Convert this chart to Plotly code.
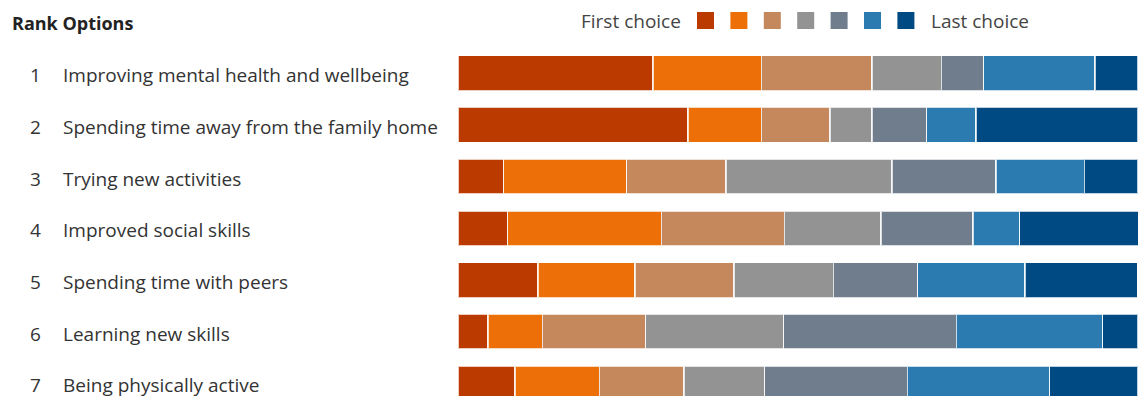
import plotly.graph_objects as go

ranks = ["1", "2", "3", "4", "5", "6", "7"]
options = [
    "Improving mental health and wellbeing",
    "Spending time away from the family home",
    "Trying new activities",
    "Improved social skills",
    "Spending time with peers",
    "Learning new skills",
    "Being physically active",
]
choice_names = ["First choice", "2nd", "3rd", "4th", "5th", "6th", "Last choice"]
colors = ["#BB3A00", "#EC7007", "#C4885C", "#939393", "#6F7D8C", "#2B7AB0", "#004A84"]

# share (%) of respondents per choice position, per option
first = [28.7, 33.8, 6.7, 7.3, 11.8, 4.4, 8.4]
second = [15.9, 10.8, 18.1, 22.6, 14.2, 8.0, 12.4]
third = [16.3, 10.1, 14.6, 18.1, 14.6, 15.2, 12.4]
fourth = [10.2, 6.2, 24.4, 14.2, 14.6, 20.3, 11.9]
fifth = [6.2, 8.0, 15.3, 13.5, 12.4, 25.4, 21.0]
sixth = [16.4, 7.3, 13.0, 6.9, 15.8, 21.5, 20.9]
last = [6.3, 23.8, 7.9, 17.5, 16.5, 5.2, 13.0]
series = [first, second, third, fourth, fifth, sixth, last]

W, H = 1138, 396
ML, MT, MB, MR = 458, 47, 0, 0
PW, PH = W - ML - MR, H - MT - MB


def px(x):
    return (x - ML) / PW


def py(y):
    return (H - MB - y) / PH


FONT = "Open Sans"
TXT = "#333333"
FS = 19

fig = go.Figure()
for name, vals, col in zip(choice_names, series, colors):
    fig.add_trace(go.Bar(
        y=options, x=vals, name=name, orientation="h",
        marker=dict(color=col, line=dict(color="rgba(255,255,255,0.75)", width=1.5)),
        showlegend=False, hoverinfo="x+y+name",
    ))

annotations = []
for r, o in zip(ranks, options):
    annotations.append(dict(x=px(35), y=o, xref="paper", yref="y", yshift=-2, text=r, showarrow=False,
                            xanchor="center", yanchor="middle", font=dict(family=FONT, size=FS, color=TXT)))
    annotations.append(dict(x=px(61), y=o, xref="paper", yref="y", yshift=-2, text=o, showarrow=False,
                            xanchor="left", yanchor="middle", font=dict(family=FONT, size=FS, color=TXT)))

annotations.append(dict(x=px(10), y=py(23), xref="paper", yref="paper", text="<b>Rank Options</b>",
                        showarrow=False, xanchor="left", yanchor="middle",
                        font=dict(family=FONT, size=18, color="#222222")))
annotations.append(dict(x=px(683), y=py(21), xref="paper", yref="paper", text="First choice",
                        showarrow=False, xanchor="right", yanchor="middle",
                        font=dict(family=FONT, size=FS, color="#444444")))
annotations.append(dict(x=px(929), y=py(21), xref="paper", yref="paper", text="Last choice",
                        showarrow=False, xanchor="left", yanchor="middle",
                        font=dict(family=FONT, size=FS, color="#444444")))

shapes = []
for i, col in enumerate(colors):
    x0 = 697 + i * 33.4
    shapes.append(dict(type="rect", xref="paper", yref="paper",
                       x0=px(x0), x1=px(x0 + 17), y0=py(29), y1=py(12),
                       fillcolor=col, line=dict(width=0)))

fig.update_layout(
    width=W, height=H,
    margin=dict(l=ML, r=MR, t=MT, b=MB, pad=0),
    barmode="stack", bargap=0.323,
    paper_bgcolor="white", plot_bgcolor="white",
    xaxis=dict(range=[0, 100], visible=False, fixedrange=True),
    yaxis=dict(type="category", categoryorder="array", categoryarray=options,
               range=[(H - MB - 73.2) / 51.7, -(73.2 - MT) / 51.7],
               visible=False, fixedrange=True),
    annotations=annotations, shapes=shapes,
    font=dict(family=FONT),
)

fig.write_html("out.html", config={"displayModeBar": False})
